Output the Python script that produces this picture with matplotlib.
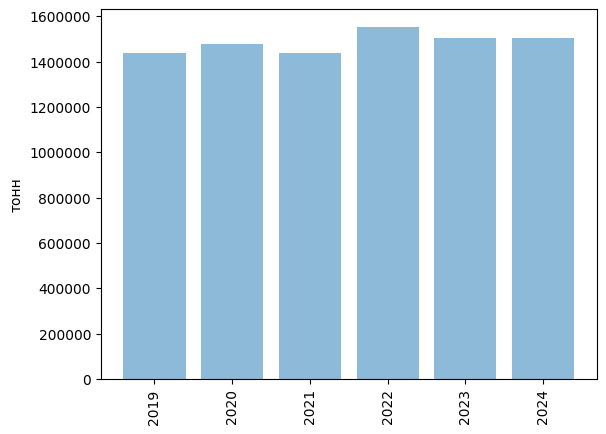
import matplotlib
matplotlib.use('Agg')
import matplotlib.pyplot as plt

years = ['2019', '2020', '2021', '2022', '2023', '2024']
tonnes = [1437000, 1477000, 1437000, 1552000, 1503000, 1503000]

fig, ax = plt.subplots(figsize=(6.4, 4.8), dpi=100)
ax.bar(years, tonnes, alpha=0.5)
ax.set_ylabel('тонн')
ax.ticklabel_format(axis='y', style='plain')
plt.xticks(rotation=90)
plt.savefig('out.png', bbox_inches='tight')
